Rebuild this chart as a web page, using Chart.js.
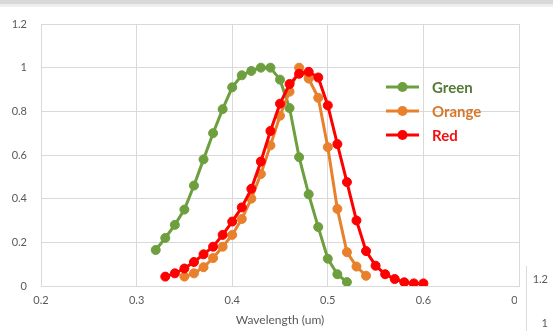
<!DOCTYPE html>
<html>
<head>
<meta charset="utf-8">
<script src="https://cdn.jsdelivr.net/npm/chart.js@4"></script>
<style>
  html, body { margin: 0; padding: 0; background: #ffffff; }
  #wrap { position: relative; width: 553px; height: 331px; }
</style>
</head>
<body>
<div id="wrap"><canvas id="c" width="553" height="331"></canvas></div>
<script>
// ---- data ----
const greenWavelengths = [0.32,0.33,0.34,0.35,0.36,0.37,0.38,0.39,0.40,0.41,0.42,0.43,0.44,0.45,0.46,0.47,0.48,0.49,0.50,0.51,0.52];
const greenValues      = [0.165,0.22,0.28,0.35,0.46,0.58,0.70,0.81,0.91,0.965,0.985,1.0,1.0,0.945,0.815,0.59,0.42,0.27,0.125,0.054,0.018];

const orangeWavelengths = [0.35,0.36,0.37,0.38,0.39,0.40,0.41,0.42,0.43,0.44,0.45,0.46,0.47,0.48,0.49,0.50,0.51,0.52,0.53,0.54];
const orangeValues      = [0.043,0.058,0.086,0.128,0.18,0.234,0.307,0.40,0.513,0.644,0.78,0.89,1.0,0.95,0.862,0.636,0.353,0.155,0.089,0.047];

const redWavelengths = [0.33,0.34,0.35,0.36,0.37,0.38,0.39,0.40,0.41,0.42,0.43,0.44,0.45,0.46,0.47,0.48,0.49,0.50,0.51,0.52,0.53,0.54,0.55,0.56,0.57,0.58,0.59,0.60];
const redValues      = [0.043,0.058,0.08,0.11,0.145,0.18,0.234,0.295,0.36,0.445,0.57,0.71,0.835,0.925,0.972,0.981,0.955,0.827,0.65,0.476,0.30,0.16,0.093,0.054,0.032,0.017,0.012,0.012];

const seriesNames = ['Green', 'Orange', 'Red'];
const xTicks = [0.2, 0.3, 0.4, 0.5, 0.6, 0.7];
const yTicks = [0, 0.2, 0.4, 0.6, 0.8, 1, 1.2];
const xTitle = 'Wavelength (um)';
const sidePanelLabels = ['1.2', '1'];

// ---- styles ----
const lineColors = ['#6E9F3F', '#E8802C', '#FF0000'];
const legendTextColors = ['#557A36', '#D7772A', '#F21010'];
const FONT = 'Lato, "Open Sans", "DejaVu Sans", sans-serif';
const gridColor = '#d9d9d9';
const tickColor = '#595959';

function pts(xs, ys) { return xs.map((x, i) => ({ x: x, y: ys[i] })); }

function makeDataset(i, xs, ys, order) {
  return {
    label: seriesNames[i],
    data: pts(xs, ys),
    borderColor: lineColors[i],
    backgroundColor: lineColors[i],
    borderWidth: 3,
    pointRadius: 4.5,
    pointHoverRadius: 4.5,
    pointBorderWidth: 1,
    pointBorderColor: lineColors[i],
    pointBackgroundColor: lineColors[i],
    tension: 0,
    order: order
  };
}

const backdrop = {
  id: 'backdrop',
  beforeDraw(chart) {
    const ctx = chart.ctx;
    ctx.save();
    ctx.fillStyle = '#ffffff';
    ctx.fillRect(0, 0, chart.width, chart.height);
    ctx.fillStyle = '#d8d8d8';
    ctx.fillRect(0, 0, chart.width, 4);
    ctx.fillStyle = '#eeeeee';
    ctx.fillRect(0, 4, chart.width, 3);
    ctx.restore();
  },
  afterDraw(chart) {
    const ctx = chart.ctx;
    ctx.save();
    // legend inside the plot
    const rows = [87, 111, 135];
    for (let i = 0; i < 3; i++) {
      const y = rows[i];
      ctx.strokeStyle = lineColors[i];
      ctx.lineWidth = 3;
      ctx.beginPath();
      ctx.moveTo(386, y);
      ctx.lineTo(419, y);
      ctx.stroke();
      ctx.fillStyle = lineColors[i];
      ctx.beginPath();
      ctx.arc(402.5, y, 5, 0, Math.PI * 2);
      ctx.fill();
      ctx.fillStyle = legendTextColors[i];
      ctx.font = 'bold 15px ' + FONT;
      ctx.textAlign = 'left';
      ctx.textBaseline = 'middle';
      ctx.fillText(seriesNames[i], 432, y + 1);
    }
    // neighbouring panel that clips the last x label
    ctx.fillStyle = '#ffffff';
    ctx.fillRect(517, 288, chart.width - 517, chart.height - 288);
    ctx.strokeStyle = '#dcdcdc';
    ctx.lineWidth = 1;
    ctx.beginPath();
    ctx.moveTo(526.5, 266);
    ctx.lineTo(526.5, chart.height);
    ctx.stroke();
    ctx.fillStyle = tickColor;
    ctx.font = '11px ' + FONT;
    ctx.textAlign = 'right';
    ctx.textBaseline = 'middle';
    ctx.fillText(sidePanelLabels[0], 548, 279);
    ctx.fillText(sidePanelLabels[1], 548, 323);
    ctx.restore();
  }
};

new Chart(document.getElementById('c'), {
  type: 'line',
  data: {
    datasets: [
      makeDataset(0, greenWavelengths, greenValues, 3),
      makeDataset(1, orangeWavelengths, orangeValues, 2),
      makeDataset(2, redWavelengths, redValues, 1)
    ]
  },
  options: {
    responsive: false,
    devicePixelRatio: 1,
    animation: false,
    layout: { padding: { left: 0, top: 24, right: 34, bottom: 0 } },
    plugins: {
      legend: { display: false },
      tooltip: { enabled: false },
      title: { display: false }
    },
    scales: {
      x: {
        type: 'linear',
        min: xTicks[0],
        max: xTicks[xTicks.length - 1],
        afterBuildTicks(scale) { scale.ticks = xTicks.map(v => ({ value: v })); },
        afterFit(scale) { scale.height = 45; },
        grid: { color: gridColor, drawTicks: false, lineWidth: 1 },
        border: { color: gridColor },
        ticks: {
          padding: 8,
          color: tickColor,
          font: { family: FONT, size: 11 },
          maxRotation: 0,
          autoSkip: false,
          callback: v => v.toFixed(1)
        },
        title: {
          display: true,
          text: xTitle,
          color: tickColor,
          font: { family: FONT, size: 12 },
          padding: { top: 2, bottom: 4 }
        }
      },
      y: {
        min: yTicks[0],
        max: yTicks[yTicks.length - 1],
        afterBuildTicks(scale) { scale.ticks = yTicks.map(v => ({ value: v })); },
        afterFit(scale) { scale.width = 41; },
        grid: { color: gridColor, drawTicks: false, lineWidth: 1 },
        border: { color: gridColor },
        ticks: {
          padding: 14,
          color: tickColor,
          font: { family: FONT, size: 11 },
          autoSkip: false,
          callback: v => String(Number(v.toFixed(1)))
        }
      }
    }
  },
  plugins: [backdrop]
});
</script>
</body>
</html>
